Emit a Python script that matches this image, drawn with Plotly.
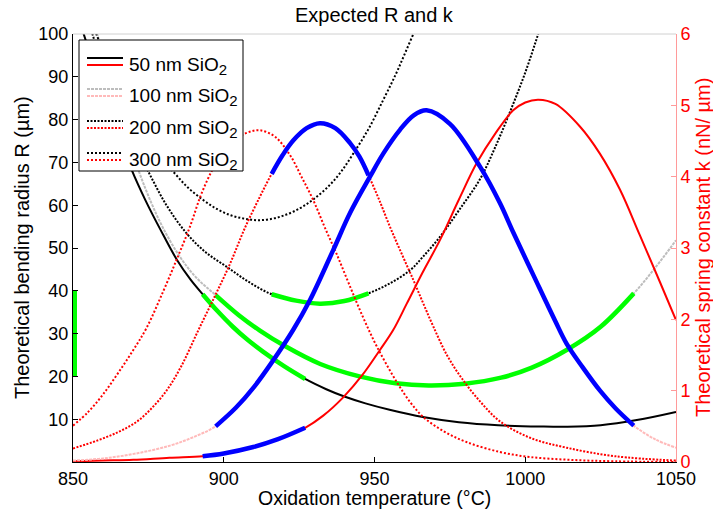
import plotly.graph_objects as go

# ---------------- data ----------------
# Theoretical bending radius R (um) vs oxidation temperature (C)
T50_R = [850, 854, 858, 862, 865.5, 869.5, 874, 879, 884.5, 889, 893, 898, 903, 908, 913, 920, 927,
         934, 940, 947, 955, 966, 978, 991, 1005, 1014, 1025, 1037, 1050]
R50 = [108, 99, 90.5, 82.5, 75.7, 68.2, 61.2, 54.3, 47.2, 42.6, 39.2, 35.2, 31.6, 28.5, 25.8, 22.4, 19.4,
       17.0, 15.3, 13.7, 12.2, 10.5, 9.3, 8.6, 8.3, 8.25, 8.6, 9.8, 11.7]

T100_R = [850, 854, 858, 862, 866, 871.7, 876, 880, 885.5, 891, 897.3, 905, 912, 920, 932, 945, 957, 968,
          980, 992, 1002, 1014, 1025, 1036, 1043, 1050]
R100 = [120, 110, 100.1, 89.9, 80.5, 68.2, 60.5, 54.5, 47.9, 43.0, 39.0, 34.3, 30.7, 27.2, 22.9, 20.0, 18.4,
        17.9, 18.3, 19.7, 22.0, 26.3, 31.6, 39.4, 45.3, 51.8]

T200_R = [850, 856, 860, 865, 870, 875, 881, 887.7, 894, 901, 908, 915.9, 924, 931.9, 940, 948, 955, 961.8,
          966, 971.7, 978, 985, 990, 995, 1000, 1004.3, 1008]
R200 = [115, 101, 92.1, 82.6, 74.6, 67.8, 60, 53.4, 49, 45.6, 42.2, 39.2, 37.7, 37.0, 37.6, 39.4, 41.7, 44.8,
        47.9, 52.6, 58.8, 66.1, 73.5, 81.9, 91, 100, 108]

T300_R = [850, 855, 858, 863, 868, 873, 878, 883.3, 888, 893.2, 897.5, 902.1, 906.5, 910.9, 915, 920, 925.3,
          930, 935, 939, 943, 948, 952.9, 957, 960, 963.5, 966]
R300 = [117, 105, 99.5, 91, 83.5, 77, 72, 67.8, 64.2, 61.2, 59.2, 57.7, 56.9, 56.5, 56.7, 57.6, 59.3,
        61.5, 64.6, 67.9, 72.1, 77.8, 84.6, 90.5, 95.3, 101, 105]

# Theoretical spring constant k (nN/um)
T50_k = [850, 860, 870, 882, 893, 900, 909.8, 918, 927, 933, 939.7, 946, 951.8, 956.2, 960.7, 966, 971.7,
         978, 983.9, 990, 996, 1000, 1004.3, 1010, 1018.2, 1024.8, 1031.4, 1038, 1044.7, 1050]
k50 = [0.01, 0.02, 0.03, 0.06, 0.08, 0.12, 0.21, 0.32, 0.48, 0.65, 0.91, 1.22, 1.57, 1.85, 2.22, 2.66, 3.11,
       3.68, 4.19, 4.6, 4.93, 5.04, 5.08, 5.02, 4.70, 4.32, 3.82, 3.18, 2.52, 1.99]

T100_k = [850, 860, 871, 882.2, 890, 897.3, 904, 910, 916, 923, 928.6, 936.3, 942, 948.5, 953, 958.5, 963,
          967.3, 975, 985, 991.6, 996, 1002.7, 1009.9, 1013.7, 1019, 1024.8, 1030, 1036, 1043, 1050]
k100 = [0.02, 0.05, 0.12, 0.23, 0.35, 0.5, 0.76, 1.05, 1.4, 1.85, 2.27, 2.97, 3.5, 4.0, 4.33, 4.66, 4.86,
        4.93, 4.74, 4.14, 3.63, 3.22, 2.62, 1.98, 1.66, 1.33, 1.0, 0.75, 0.51, 0.32, 0.2]

T200_k = [850, 858, 865, 871, 876, 881, 886, 891.6, 897, 902.1, 907, 912, 915.9, 919.5, 923.1, 927.5, 931.9,
          937, 941.9, 945, 948, 951.5, 955.1, 959, 962.9, 966.2, 969.5, 974, 979, 985, 991.6, 1001.6, 1013.7,
          1030, 1050]
k200 = [0.19, 0.3, 0.42, 0.56, 0.75, 1.0, 1.35, 1.85, 2.32, 2.78, 3.28, 3.72, 4.04, 4.3, 4.51, 4.68, 4.75,
        4.68, 4.47, 4.28, 4.02, 3.68, 3.30, 2.92, 2.55, 2.22, 1.9, 1.5, 1.17, 0.85, 0.57, 0.34, 0.2,
        0.08, 0.02]

T300_k = [850, 855, 860, 865, 870, 874.4, 880, 884.5, 888.8, 892.5, 896.5, 900, 904, 908, 912, 917, 922, 926,
          929.7, 933.5, 937.4, 941.5, 946.3, 951, 957.4, 962, 966.2, 973, 980.5, 991.6, 1001.6, 1015, 1030, 1050]
k300 = [0.51, 0.7, 0.95, 1.25, 1.57, 1.88, 2.4, 2.85, 3.3, 3.75, 4.12, 4.36, 4.53, 4.62, 4.65, 4.56, 4.30, 3.98,
        3.67, 3.29, 2.92, 2.5, 2.02, 1.6, 1.12, 0.83, 0.63, 0.43, 0.28, 0.14, 0.07, 0.03, 0.01, 0.0]

# valid temperature window per oxide thickness (highlighted green / blue)
RANGE50 = (893, 927)
RANGE100 = (897.3, 1036)
RANGE200 = (915.9, 948)

# target bending radius window shown at left edge
TARGET_T = 850
TARGET_R = [20, 40]

LABELS = ["50 nm SiO", "100 nm SiO", "200 nm SiO", "300 nm SiO"]
X_TICKS = [850, 900, 950, 1000, 1050]
R_TICKS = [10, 20, 30, 40, 50, 60, 70, 80, 90, 100]
K_TICKS = [0, 1, 2, 3, 4, 5, 6]

# ---------------- styles ----------------
BLACK = "black"
GREY = "#bdbdbd"
RED = "#ff0000"
PINK = "#ffbaba"
GREEN = "#00ff00"
BLUE = "#0000ff"
DOT_A = "2px,1.5px"
DOT_B = "2px,2px"
DOT_L = "3px,1px"

fig = go.Figure()


def window(T, V, rng):
    a, b = rng
    pts = [(t, v) for t, v in zip(T, V) if a <= t <= b]
    return [p[0] for p in pts], [p[1] for p in pts]


def line(x, y, yaxis, color, width, dash="solid"):
    fig.add_trace(go.Scatter(x=x, y=y, mode="lines", yaxis=yaxis, hoverinfo="skip",
                             line=dict(color=color, width=width, dash=dash, shape="spline", smoothing=1.0)))


R_specs = [(T50_R, R50, RANGE50, BLACK, "solid"),
           (T100_R, R100, RANGE100, GREY, DOT_L),
           (T200_R, R200, RANGE200, BLACK, DOT_A),
           (T300_R, R300, None, BLACK, DOT_B)]
k_specs = [(T50_k, k50, RANGE50, RED, "solid"),
           (T100_k, k100, RANGE100, PINK, DOT_L),
           (T200_k, k200, RANGE200, RED, DOT_A),
           (T300_k, k300, None, RED, DOT_B)]

for T, V, rng, c, d in R_specs:
    line(T, V, "y", c, 2, d)
for T, V, rng, c, d in R_specs:
    if rng:
        x, y = window(T, V, rng)
        line(x, y, "y", GREEN, 4.5)
fig.add_trace(go.Scatter(x=[TARGET_T, TARGET_T], y=TARGET_R, mode="lines", yaxis="y", hoverinfo="skip",
                         line=dict(color=GREEN, width=8)))

for T, V, rng, c, d in k_specs:
    line(T, V, "y2", c, 2, d)
for T, V, rng, c, d in k_specs:
    if rng:
        x, y = window(T, V, rng)
        line(x, y, "y2", BLUE, 4.5)

# ---------------- layout ----------------
W, H = 713, 515
PL, PR, PT, PB = 73, 676, 34, 462


def px(xp):
    return (xp - PL) / (PR - PL)


def py(yp):
    return (PB - yp) / (PB - PT)


FONT = "Liberation Sans, Arial, Helvetica, sans-serif"

fig.update_layout(
    width=W, height=H,
    margin=dict(l=PL, r=W - PR, t=PT, b=H - PB, autoexpand=False),
    paper_bgcolor="white", plot_bgcolor="white",
    showlegend=False,
    font=dict(family=FONT, size=18, color="black"),
    xaxis=dict(range=[850, 1050], tickvals=X_TICKS, ticks="inside", ticklen=5, tickcolor="black",
               showline=True, linecolor="black", linewidth=1, showgrid=False, zeroline=False,
               ticklabelstandoff=0, automargin=False),
    yaxis=dict(range=[0, 100], tickvals=R_TICKS, ticks="inside", ticklen=5, tickcolor="black",
               showline=True, linecolor="black", linewidth=1, showgrid=False, zeroline=False,
               automargin=False),
    yaxis2=dict(range=[0, 6], tickvals=K_TICKS, overlaying="y", side="right", ticks="inside", ticklen=5,
                tickcolor="#ff9a9a", showline=True, linecolor="#ff9a9a", linewidth=1, showgrid=False,
                zeroline=False, tickfont=dict(color=RED), automargin=False),
)

shapes = [dict(type="line", xref="paper", yref="paper", x0=0, x1=1, y0=1, y1=1,
               line=dict(color="#d0d0d0", width=1), layer="above")]
# legend box
shapes.append(dict(type="rect", xref="paper", yref="paper", x0=px(79), x1=px(243), y0=py(40), y1=py(171),
                   fillcolor="white", line=dict(color="black", width=1), layer="above"))
leg_c = [61.5, 92.5, 124.5, 156.5]
leg_styles = [((BLACK, "solid"), (RED, "solid")),
              ((GREY, DOT_L), (PINK, DOT_L)),
              ((BLACK, DOT_A), (RED, DOT_A)),
              ((BLACK, DOT_B), (RED, DOT_B))]
annotations = []
for c, (s1, s2), lab in zip(leg_c, leg_styles, LABELS):
    for dy, (col, dsh) in ((-3.5, s1), (3.5, s2)):
        shapes.append(dict(type="line", xref="paper", yref="paper", x0=px(87), x1=px(123),
                           y0=py(c + dy), y1=py(c + dy), line=dict(color=col, width=2, dash=dsh), layer="above"))
    annotations.append(dict(text=lab + '<sub><span style="font-size:15px">2</span></sub>',
                            xref="paper", yref="paper", x=px(127), y=py(c + 4),
                            xanchor="left", yanchor="middle", showarrow=False,
                            font=dict(size=19, color="black")))

annotations += [
    dict(text="Expected R and k", xref="paper", yref="paper", x=0.5, y=py(15), xanchor="center",
         yanchor="middle", showarrow=False, font=dict(size=20)),
    dict(text="Oxidation temperature (°C)", xref="paper", yref="paper", x=0.5, y=py(498), xanchor="center",
         yanchor="middle", showarrow=False, font=dict(size=19.5)),
    dict(text="Theoretical bending radius R (µm)", xref="paper", yref="paper", x=px(22), y=0.5,
         xanchor="center", yanchor="middle", textangle=-90, showarrow=False, font=dict(size=20)),
    dict(text="Theoretical spring constant k (nN/ µm)", xref="paper", yref="paper", x=px(703), y=0.5,
         xanchor="center", yanchor="middle", textangle=-90, showarrow=False, font=dict(size=20, color=RED)),
]
fig.update_layout(shapes=shapes, annotations=annotations)

fig.write_html("out.html")
